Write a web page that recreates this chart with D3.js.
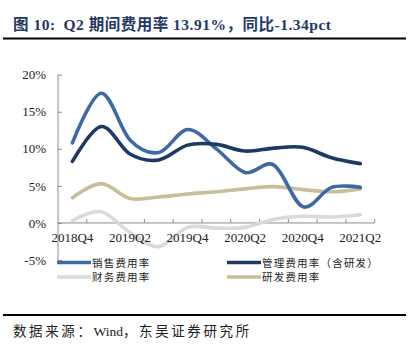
<!DOCTYPE html>
<html>
<head>
<meta charset="utf-8">
<script src="https://cdn.jsdelivr.net/npm/d3@7"></script>
<style>
  html, body { margin: 0; padding: 0; background: #fff; }
  svg { display: block; }
</style>
</head>
<body>
<svg id="chart" width="412" height="348"></svg>
<script>
// ---- data ----
const categories = ["2018Q4","2019Q1","2019Q2","2019Q3","2019Q4","2020Q1","2020Q2","2020Q3","2020Q4","2021Q1","2021Q2"];
const tickLabels = ["2018Q4","2019Q2","2019Q4","2020Q2","2020Q4","2021Q2"];
const yTicks = [-5, 0, 5, 10, 15, 20];
const salesRate   = [10.8, 17.5, 11.2, 9.5, 12.6, 10.0, 6.8, 7.8, 2.2, 4.8, 4.8];
const adminRate   = [8.3, 13.0, 9.3, 8.5, 10.5, 10.6, 9.7, 10.1, 10.2, 8.8, 8.0];
const financeRate = [0.3, 1.5, -1.3, -3.2, -0.6, -0.7, -0.6, 0.5, 0.9, 0.8, 1.1];
const rdRate      = [3.4, 5.3, 3.3, 3.5, 3.9, 4.2, 4.6, 4.9, 4.5, 4.2, 4.6];
const seriesNames = ["销售费用率", "管理费用率（含研发）", "财务费用率", "研发费用率"];
const seriesColors = ["#3E6AA3", "#1C3A64", "#DADADA", "#C8BF98"];

const series = [
  { name: seriesNames[0], values: salesRate,   color: seriesColors[0] },
  { name: seriesNames[1], values: adminRate,   color: seriesColors[1] },
  { name: seriesNames[2], values: financeRate, color: seriesColors[2] },
  { name: seriesNames[3], values: rdRate,      color: seriesColors[3] }
];

const svg = d3.select("#chart");
const serif = "'Liberation Serif', 'Times New Roman', serif";
const cjk = "'Liberation Serif', 'Noto Sans CJK SC', serif";

svg.append("rect").attr("width", 412).attr("height", 348).attr("fill", "#fff");

// title
const title = svg.append("text")
  .attr("x", 13).attr("y", 30)
  .attr("font-family", cjk)
  .attr("font-weight", "bold")
  .attr("font-size", 15.5)
  .attr("letter-spacing", 0.5)
  .attr("fill", "#1F3864");
title.append("tspan").text("图 10:");
title.append("tspan").attr("dx", 8).text("Q2 期间费用率 13.91%，同比-1.34pct");

svg.append("line").attr("x1", 3).attr("x2", 406).attr("y1", 38.5).attr("y2", 38.5)
  .attr("stroke", "#000").attr("stroke-width", 2);

// scales
const x = d3.scaleBand().domain(categories).range([58, 374.7]).padding(0);
const y = d3.scaleLinear().domain([-5, 20]).range([260, 74.7]);
const xc = d => x(d) + x.bandwidth() / 2;

const axisColor = "#8c8c8c";

// y axis
const yAxis = svg.append("g").attr("transform", "translate(58,0)")
  .call(d3.axisLeft(y).tickValues(yTicks).tickSize(-4).tickPadding(12)
    .tickFormat(d => d + "%"));
yAxis.select(".domain").attr("stroke", axisColor).attr("d", `M0,${y(-5)}V${y(20)}`);
yAxis.selectAll(".tick line").attr("stroke", axisColor);
yAxis.selectAll(".tick text")
  .attr("font-family", serif).attr("font-size", 13).attr("fill", "#222");

// x axis line at 0
const y0 = y(0);
svg.append("line").attr("x1", x.range()[0]).attr("x2", x.range()[1])
  .attr("y1", y0).attr("y2", y0).attr("stroke", axisColor).attr("stroke-width", 1);
const boundaries = categories.map(c => x(c)).concat([x.range()[1]]).slice(1);
svg.append("g").selectAll("line").data(boundaries).join("line")
  .attr("x1", d => d).attr("x2", d => d)
  .attr("y1", y0).attr("y2", y0 - 4)
  .attr("stroke", axisColor);

// lines
const line = d3.line()
  .x((d, i) => xc(categories[i]))
  .y(d => y(d))
  .curve(d3.curveCardinal.tension(0));

const drawOrder = [2, 3, 0, 1];
drawOrder.forEach(k => {
  const s = series[k];
  svg.append("path")
    .attr("d", line(s.values))
    .attr("fill", "none")
    .attr("stroke", s.color)
    .attr("stroke-width", 3.6)
    .attr("stroke-linecap", "round")
    .attr("stroke-linejoin", "round");
});

// x tick labels (on top)
svg.append("g").selectAll("text").data(tickLabels).join("text")
  .attr("x", d => xc(d)).attr("y", 242)
  .attr("text-anchor", "middle")
  .attr("font-family", serif).attr("font-size", 13).attr("fill", "#222")
  .text(d => d);

// legend
const legendPos = [
  { x: 57, y: 262.5 }, { x: 227, y: 262.5 },
  { x: 57, y: 277 }, { x: 227, y: 277 }
];
series.forEach((s, i) => {
  const p = legendPos[i];
  svg.append("line").attr("x1", p.x).attr("x2", p.x + 34)
    .attr("y1", p.y).attr("y2", p.y)
    .attr("stroke", s.color).attr("stroke-width", 3.6);
  svg.append("text").attr("x", p.x + 35).attr("y", p.y + 4)
    .attr("font-family", "'Noto Sans CJK SC', sans-serif")
    .attr("font-size", 10.5).attr("letter-spacing", 1.2)
    .attr("fill", "#222")
    .text(s.name);
});

// bottom rule & source
svg.append("line").attr("x1", 3).attr("x2", 406).attr("y1", 315).attr("y2", 315)
  .attr("stroke", "#000").attr("stroke-width", 2);
const src = svg.append("text").attr("x", 13).attr("y", 336)
  .attr("font-family", cjk).attr("font-size", 13.5)
  .attr("fill", "#222");
src.append("tspan").attr("letter-spacing", 2.6).text("数据来源：");
src.append("tspan").attr("letter-spacing", 0).text("Wind");
src.append("tspan").attr("letter-spacing", 2.6).text("，东吴证券研究所");
</script>
</body>
</html>
